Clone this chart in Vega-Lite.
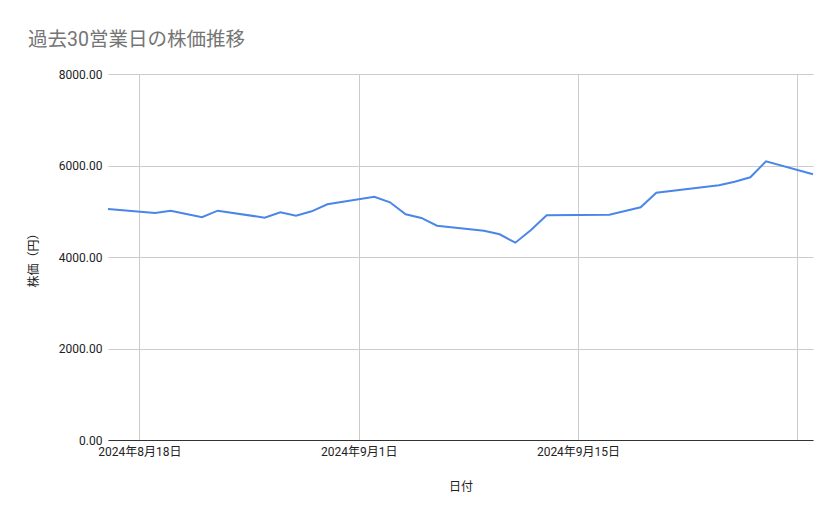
{
  "$schema": "https://vega.github.io/schema/vega-lite/v6.json",
  "width": 705,
  "height": 366,
  "autosize": {"type": "none"},
  "padding": {"left": 108, "top": 74, "right": 26, "bottom": 79},
  "background": "white",
  "title": {
    "text": "過去30営業日の株価推移",
    "anchor": "start",
    "frame": "group",
    "dx": -80,
    "offset": 18,
    "font": "Roboto, Noto Sans CJK JP",
    "fontSize": 19.5,
    "fontWeight": "normal",
    "color": "#757575"
  },
  "data": {
    "values": [
      {"date": "2024-08-16", "price": 5050},
      {"date": "2024-08-19", "price": 4962},
      {"date": "2024-08-20", "price": 5012},
      {"date": "2024-08-21", "price": 4940},
      {"date": "2024-08-22", "price": 4868},
      {"date": "2024-08-23", "price": 5012},
      {"date": "2024-08-26", "price": 4860},
      {"date": "2024-08-27", "price": 4977},
      {"date": "2024-08-28", "price": 4903},
      {"date": "2024-08-29", "price": 4999},
      {"date": "2024-08-30", "price": 5152},
      {"date": "2024-09-02", "price": 5318},
      {"date": "2024-09-03", "price": 5196},
      {"date": "2024-09-04", "price": 4934},
      {"date": "2024-09-05", "price": 4853},
      {"date": "2024-09-06", "price": 4684},
      {"date": "2024-09-09", "price": 4575},
      {"date": "2024-09-10", "price": 4496},
      {"date": "2024-09-11", "price": 4313},
      {"date": "2024-09-12", "price": 4590},
      {"date": "2024-09-13", "price": 4912},
      {"date": "2024-09-17", "price": 4925},
      {"date": "2024-09-18", "price": 5006},
      {"date": "2024-09-19", "price": 5087},
      {"date": "2024-09-20", "price": 5406},
      {"date": "2024-09-24", "price": 5568},
      {"date": "2024-09-25", "price": 5646},
      {"date": "2024-09-26", "price": 5743},
      {"date": "2024-09-27", "price": 6092},
      {"date": "2024-09-30", "price": 5808}
    ]
  },
  "mark": {"type": "line", "color": "#4a86e8", "strokeWidth": 2},
  "encoding": {
    "x": {
      "field": "date",
      "type": "temporal",
      "title": "日付",
      "scale": {
        "type": "utc",
        "domain": [
          {"year": 2024, "month": 8, "date": 16, "utc": true},
          {"year": 2024, "month": 9, "date": 30, "utc": true}
        ]
      },
      "axis": {
        "values": [
          {"year": 2024, "month": 8, "date": 18, "utc": true},
          {"year": 2024, "month": 9, "date": 1, "utc": true},
          {"year": 2024, "month": 9, "date": 15, "utc": true},
          {"year": 2024, "month": 9, "date": 29, "utc": true}
        ],
        "format": "%Y年%-m月%-d日",
        "labelExpr": "datum.index == 1 ? '' : datum.label",
        "grid": true,
        "gridColor": "#cccccc",
        "domainColor": "#333333",
        "tickColor": "#cccccc",
        "tickSize": 0,
        "labelPadding": 6,
        "labelFont": "Roboto, Noto Sans CJK JP",
        "labelFontSize": 12,
        "labelColor": "#222222",
        "labelOverlap": false,
        "titleFont": "Roboto, Noto Sans CJK JP",
        "titleFontSize": 12,
        "titleFontWeight": "normal",
        "titleColor": "#222222",
        "titlePadding": 24
      }
    },
    "y": {
      "field": "price",
      "type": "quantitative",
      "title": "株価（円）",
      "scale": {"domain": [0, 8000], "nice": false},
      "axis": {
        "values": [0, 2000, 4000, 6000, 8000],
        "format": ".2f",
        "domain": false,
        "ticks": false,
        "labelPadding": 6,
        "gridColor": "#cccccc",
        "labelFont": "Roboto, Noto Sans CJK JP",
        "labelFontSize": 12,
        "labelColor": "#222222",
        "titleFont": "Roboto, Noto Sans CJK JP",
        "titleFontSize": 12,
        "titleFontWeight": "normal",
        "titleColor": "#222222",
        "titlePadding": 18
      }
    }
  },
  "config": {"view": {"stroke": null}}
}
